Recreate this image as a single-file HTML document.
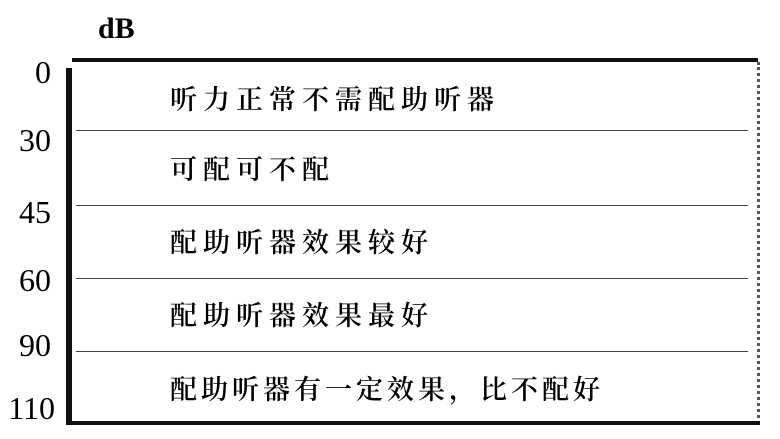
<!DOCTYPE html>
<html><head><meta charset="utf-8"><style>
body{margin:0;width:780px;height:439px;background:#fff;position:relative;overflow:hidden;font-family:"Liberation Serif","Noto Serif CJK SC",serif;color:#000}
.a{position:absolute}
.n{position:absolute;font-size:32px;line-height:32px;text-align:right;width:51px;left:0}
.t{position:absolute;left:170px;font-size:27px;line-height:30px;letter-spacing:6px;white-space:nowrap;font-weight:600}
.h{position:absolute;left:76px;width:672px;height:0;border-top:1.5px solid #444}
</style></head><body>
<div class="a" style="left:98px;top:12px;font-size:30px;font-weight:bold">dB</div>
<div class="a" style="left:72px;top:58px;width:686px;height:4px;background:#111"></div>
<div class="a" style="left:66px;top:68px;width:6px;height:357px;background:#111"></div>
<div class="a" style="left:757px;top:62px;width:0;height:362px;border-left:3px dotted #555"></div>
<div class="a" style="left:72px;top:421px;width:688px;height:4px;background:#111"></div>
<div class="h" style="top:130px"></div>
<div class="h" style="top:205px"></div>
<div class="h" style="top:278px"></div>
<div class="h" style="top:351px"></div>
<div class="n" style="top:56px">0</div>
<div class="n" style="top:124px">30</div>
<div class="n" style="top:196px">45</div>
<div class="n" style="top:264px">60</div>
<div class="n" style="top:329px">90</div>
<div class="n" style="top:392px;left:4px">110</div>
<div class="t" style="top:85px">听力正常不需配助听器</div>
<div class="t" style="top:155px">可配可不配</div>
<div class="t" style="top:228px">配助听器效果较好</div>
<div class="t" style="top:301px">配助听器效果最好</div>
<div class="t" style="top:375px;letter-spacing:4px">配助听器有一定效果，比不配好</div>
</body></html>
